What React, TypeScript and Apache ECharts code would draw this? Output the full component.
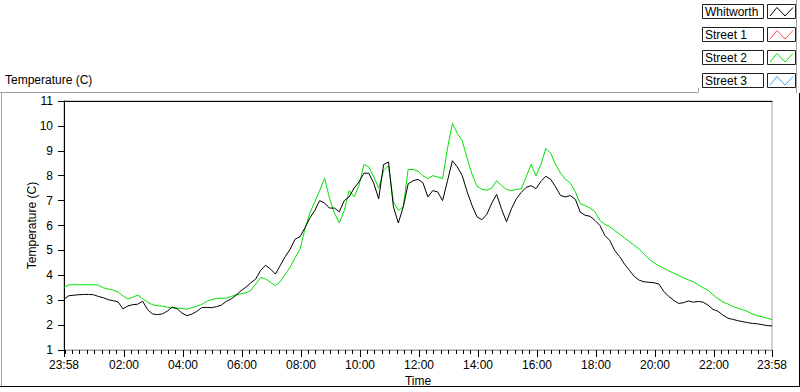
import React, { useEffect, useRef } from "react";
import * as echarts from "echarts";

// ---- data ----
const seriesNames = ["Whitworth", "Street 1", "Street 2", "Street 3"];
const seriesColors = ["#000000", "#ff4a4a", "#00e000", "#36a9ff"];

// samples every 10 minutes, starting at 23:58 (minute -2 of the day)
const startMinute = -2;
const stepMinutes = 10;

const whitworth = [
  3.05, 3.18, 3.2, 3.22, 3.23, 3.23, 3.22, 3.15, 3.1, 3.02,
  2.98, 2.93, 2.65, 2.77, 2.82, 2.84, 2.96, 2.62, 2.45, 2.42,
  2.45, 2.56, 2.72, 2.66, 2.48, 2.38, 2.44, 2.55, 2.7, 2.71,
  2.7, 2.74, 2.8, 2.95, 3.05, 3.2, 3.38, 3.52, 3.7, 3.85,
  4.2, 4.4, 4.25, 4.05, 4.4, 4.75, 5.05, 5.45, 5.55, 5.9,
  6.3, 6.6, 7.0, 6.9, 6.7, 6.7, 6.55, 7.0, 7.15, 7.5,
  7.75, 8.1, 8.1, 7.7, 7.07, 8.45, 8.55, 6.75, 6.1, 6.75,
  7.67, 7.8, 7.85, 7.72, 7.15, 7.4, 7.35, 7.0, 7.8, 8.6,
  8.35, 8.0, 7.35, 6.8, 6.35, 6.23, 6.45, 6.9, 7.25, 6.65,
  6.15, 6.67, 7.07, 7.33, 7.53, 7.6, 7.48, 7.77, 7.98, 7.85,
  7.55, 7.2, 7.15, 7.2, 7.05, 6.54, 6.41, 6.37, 6.2, 6.0,
  5.6, 5.4, 5.0, 4.75, 4.45, 4.2, 3.95, 3.8, 3.74, 3.72,
  3.7, 3.65, 3.35, 3.15, 3.0, 2.87, 2.9, 2.97, 2.92, 2.95,
  2.92, 2.8, 2.63, 2.56, 2.4, 2.28, 2.23, 2.18, 2.14, 2.1,
  2.07, 2.05, 2.02, 1.98, 1.97,
];

const street1: number[] = [];

const street2 = [
  3.52, 3.62, 3.62, 3.62, 3.62, 3.62, 3.62, 3.6, 3.5, 3.45,
  3.4, 3.33, 3.17, 3.05, 3.12, 3.21, 3.06, 2.92, 2.82, 2.78,
  2.76, 2.72, 2.7, 2.68, 2.67, 2.64, 2.7, 2.76, 2.83, 2.95,
  3.02, 3.07, 3.08, 3.08, 3.15, 3.22, 3.25, 3.3, 3.4, 3.65,
  3.92, 3.85, 3.72, 3.58, 3.75, 4.05, 4.33, 4.7, 5.05, 5.85,
  6.5, 6.95, 7.4, 7.9, 7.1, 6.5, 6.1, 6.6, 7.4, 7.15,
  7.6, 8.45, 8.35, 7.95, 7.5, 8.2, 8.4, 6.95, 6.61, 6.75,
  8.25, 8.25, 8.18, 8.0, 7.88, 8.0, 7.95, 7.88, 9.1, 10.1,
  9.7, 9.4, 8.7, 8.05, 7.58, 7.45, 7.42, 7.5, 7.8, 7.6,
  7.45, 7.4, 7.45, 7.47, 7.95, 8.45, 8.0, 8.45, 9.1, 8.9,
  8.45, 8.1, 7.85, 7.7, 7.35, 6.87, 6.8, 6.7, 6.55, 6.2,
  6.05, 5.95, 5.8, 5.65, 5.5, 5.35, 5.2, 5.05, 4.85, 4.65,
  4.5, 4.38, 4.28, 4.18, 4.08, 4.0, 3.9, 3.82, 3.74, 3.62,
  3.5, 3.4, 3.22, 3.06, 2.93, 2.85, 2.75, 2.68, 2.62, 2.55,
  2.45, 2.38, 2.33, 2.28, 2.22,
];

const street3: number[] = [];

const seriesValues = [whitworth, street1, street2, street3];

// x axis: minutes of the day (23:58 of previous day = -2)
const xMin = -2;
const xMax = 1438;
const majorTickMinutes = [-2, 120, 240, 360, 480, 600, 720, 840, 960, 1080, 1200, 1320, 1438];
const minorTickStep = 15;

const yMin = 1;
const yMax = 11;
const yInterval = 1;

const chartTitle = "Temperature (C)";
const yAxisName = "Temperature (C)";
const xAxisName = "Time";

const FONT = '"Liberation Sans", Arial, sans-serif';

function fmtMinute(m: number): string {
  let v = Math.round(m);
  v = ((v % 1440) + 1440) % 1440;
  const h = Math.floor(v / 60);
  const mm = v % 60;
  return String(h).padStart(2, "0") + ":" + String(mm).padStart(2, "0");
}

export default function App() {
  const ref = useRef<HTMLDivElement>(null);

  useEffect(() => {
    if (!ref.current) return;
    const chart = echarts.init(ref.current, undefined, { renderer: "svg" });

    const minorTicks: number[] = [];
    for (let m = 0; m <= xMax; m += minorTickStep) minorTicks.push(m);

    const series = seriesNames.map((name, i) => ({
      name,
      type: "line",
      xAxisIndex: 0,
      yAxisIndex: 0,
      showSymbol: false,
      symbol: "none",
      data: seriesValues[i].map((v, k) => [startMinute + k * stepMinutes, v]),
      lineStyle: { color: seriesColors[i], width: 1 },
      itemStyle: { color: seriesColors[i] },
      z: i === 0 ? 3 : 2,
    }));

    // legend drawn as boxes (text box + swatch box)
    const legendGraphics: any[] = [];
    seriesNames.forEach((name, i) => {
      const top = 4 + i * 23;
      legendGraphics.push({
        type: "rect",
        shape: { x: 702.5, y: top + 0.5, width: 61, height: 14 },
        style: { fill: "#ffffff", stroke: "#202020", lineWidth: 1 },
      });
      legendGraphics.push({
        type: "text",
        x: 705,
        y: top + 8,
        style: {
          text: name,
          fill: "#000000",
          fontSize: 12,
          fontFamily: FONT,
          verticalAlign: "middle",
          align: "left",
        },
      });
      legendGraphics.push({
        type: "rect",
        shape: { x: 767.5, y: top + 0.5, width: 28, height: 14 },
        style: { fill: "#ffffff", stroke: "#202020", lineWidth: 1 },
      });
      legendGraphics.push({
        type: "polyline",
        shape: {
          points: [
            [770, top + 12],
            [777, top + 3.5],
            [785, top + 12],
            [793, top + 3.5],
          ],
        },
        style: { stroke: seriesColors[i], fill: "none", lineWidth: 1 },
      });
    });

    const frameLines = [
      { x1: 0, y1: 92.5, x2: 698, y2: 92.5, c: "#a0a0a0" },
      { x1: 698.5, y1: 88, x2: 698.5, y2: 92.5, c: "#a0a0a0" },
      { x1: 796.5, y1: 0, x2: 796.5, y2: 93, c: "#a0a0a0" },
      { x1: 1.5, y1: 92.5, x2: 1.5, y2: 386, c: "#a0a0a0" },
      { x1: 799.5, y1: 93, x2: 799.5, y2: 386, c: "#000000" },
      { x1: 0, y1: 386.5, x2: 800, y2: 386.5, c: "#000000" },
    ].map((l) => ({
      type: "line",
      shape: { x1: l.x1, y1: l.y1, x2: l.x2, y2: l.y2 },
      style: { stroke: l.c, lineWidth: 1 },
      silent: true,
    }));

    const option: any = {
      animation: false,
      backgroundColor: "#ffffff",
      textStyle: { fontFamily: FONT },
      title: {
        text: chartTitle,
        left: 5,
        top: 74,
        padding: 0,
        textStyle: { fontSize: 12, fontWeight: "normal", color: "#000", fontFamily: FONT },
      },
      grid: {
        left: 64,
        right: 28,
        top: 101,
        bottom: 39,
        show: true,
        borderColor: "#a0a0a0",
        borderWidth: 1,
        backgroundColor: "#ffffff",
      },
      xAxis: [
        {
          type: "value",
          position: "bottom",
          min: xMin,
          max: xMax,
          name: xAxisName,
          nameLocation: "middle",
          nameGap: 25,
          nameMoveOverlap: false,
          nameTextStyle: { fontSize: 12, color: "#000", fontFamily: FONT },
          axisLine: { show: true, onZero: false, lineStyle: { color: "#a0a0a0", width: 1 } },
          axisTick: {
            show: true,
            inside: false,
            length: 7,
            customValues: majorTickMinutes,
            lineStyle: { color: "#000", width: 1 },
          },
          axisLabel: {
            show: true,
            customValues: majorTickMinutes,
            margin: 9,
            fontSize: 12,
            color: "#000",
            fontFamily: FONT,
            formatter: (v: number) => fmtMinute(v),
          },
          splitLine: { show: false },
        },
        {
          type: "value",
          position: "bottom",
          min: xMin,
          max: xMax,
          axisLine: { show: false, onZero: false },
          axisTick: {
            show: true,
            inside: false,
            length: 4,
            customValues: minorTicks,
            lineStyle: { color: "#000", width: 1 },
          },
          axisLabel: { show: false },
          splitLine: { show: false },
        },
        {
          type: "value",
          position: "top",
          min: xMin,
          max: xMax,
          axisLine: { show: true, onZero: false, lineStyle: { color: "#000", width: 1 } },
          axisTick: { show: false },
          axisLabel: { show: false },
          splitLine: { show: false },
        },
      ],
      yAxis: {
        type: "value",
        min: yMin,
        max: yMax,
        interval: yInterval,
        name: yAxisName,
        nameLocation: "middle",
        nameGap: 26,
        nameMoveOverlap: false,
        nameTextStyle: { fontSize: 12, color: "#000", fontFamily: FONT },
        axisLine: { show: true, onZero: false, lineStyle: { color: "#000", width: 1 } },
        axisTick: { show: true, inside: false, length: 6, lineStyle: { color: "#000", width: 1 } },
        axisLabel: { show: true, margin: 11, fontSize: 12, color: "#000", fontFamily: FONT },
        splitLine: { show: false },
      },
      series,
      graphic: [...frameLines, ...legendGraphics],
    };

    chart.setOption(option);
    return () => chart.dispose();
  }, []);

  return (
    <div
      ref={ref}
      style={{ position: "absolute", left: 0, top: 0, width: 800, height: 392, background: "#fff" }}
    />
  );
}
